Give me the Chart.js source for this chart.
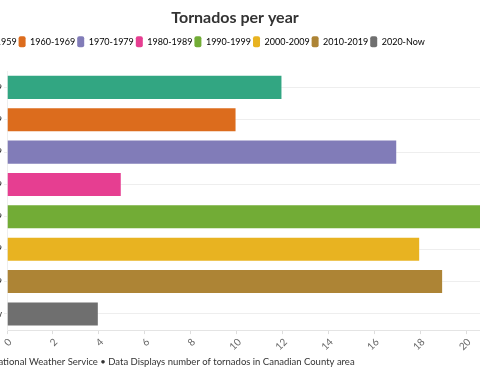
<!DOCTYPE html>
<html>
<head>
<meta charset="utf-8">
<script src="https://cdn.jsdelivr.net/npm/chart.js@4"></script>
<style>
  body { margin: 0; overflow: hidden; background: #fff; }
  #wrap { position: absolute; left: -54px; top: 0; width: 586px; height: 384px; }
</style>
</head>
<body>
<div id="wrap"><canvas id="myChart"></canvas></div>
<script>
// decades shown on the y axis
const decades = ['1950-1959', '1960-1969', '1970-1979', '1980-1989', '1990-1999', '2000-2009', '2010-2019', '2020-Now'];
// tornados counted in each decade
const tornadoCounts = [12, 10, 17, 5, 22, 18, 19, 4];
// x axis ticks
const xTicks = [0, 2, 4, 6, 8, 10, 12, 14, 16, 18, 20, 22];

const barColors = ['#32a682', '#dc6c1d', '#817cb8', '#e63e91', '#72ac36', '#e8b321', '#ad8435', '#6f6f6f'];

Chart.defaults.font.family = 'Lato, "Noto Sans", sans-serif';
Chart.defaults.color = '#333';

//gives the legend some room underneath before the bars start
const legendGap = {
    id: 'legendGap',
    beforeInit(chart) {
        const fit = chart.legend.fit;
        chart.legend.fit = function () {
            fit.call(this);
            this.height += 14;
        };
    }
};

const ctx = document.getElementById('myChart').getContext('2d');

const myChart = new Chart(ctx, {
    type: 'bar',
    data: {
        labels: decades,
        datasets: [{
            label: 'Tornados',
            data: tornadoCounts,
            backgroundColor: barColors,
            borderColor: 'rgba(255,255,255,0.35)',
            borderWidth: 1,
            barPercentage: 0.86,
            categoryPercentage: 0.9
        }]
    },
    options: {
        indexAxis: 'y',
        responsive: true,
        maintainAspectRatio: false,
        animation: false,
        layout: { padding: { left: 12, right: 20, top: 6, bottom: 4 } },
        scales: {
            x: {
                min: 0,
                max: 22,
                afterBuildTicks: s => { s.ticks = xTicks.map(v => ({ value: v })); },
                grid: { drawOnChartArea: false, drawTicks: true, tickLength: 4, color: '#ddd' },
                border: { color: '#e4e4e4' },
                ticks: {
                    minRotation: 45, maxRotation: 45,
                    color: '#666', font: { size: 10 }, labelOffset: 3, padding: 2
                }
            },
            y: {
                afterFit: s => { s.width = 49; },
                grid: { offset: false, color: '#eee', tickLength: 3 },
                border: { color: '#eee' },
                ticks: { color: '#333', font: { size: 10 }, padding: 2 }
            }
        },
        plugins: {
            title: {
                display: true,
                text: 'Tornados per year',
                color: '#333',
                font: { size: 16, weight: 'bold' },
                padding: { top: 2, bottom: 7 }
            },
            subtitle: {
                display: true,
                position: 'bottom',
                align: 'start',
                text: 'Source: National Weather Service \u2022 Data Displays number of tornados in Canadian County area',
                color: '#333',
                font: { size: 9.5 },
                padding: { top: 1.5, bottom: 12.3 }
            },
            legend: {
                display: true,
                align: 'start',
                labels: {
                    boxWidth: 7,
                    boxHeight: 11,
                    useBorderRadius: true,
                    borderRadius: 2,
                    padding: 2,
                    font: { size: 9 },
                    color: '#333',
                    generateLabels: () => decades.map((d, i) => ({
                        text: d,
                        fillStyle: barColors[i],
                        strokeStyle: barColors[i],
                        lineWidth: 0,
                        hidden: false,
                        index: i,
                        borderRadius: 2
                    }))
                },
                onClick: () => {}
            },
            tooltip: { enabled: true }
        }
    },
    plugins: [legendGap]
});
</script>
</body>
</html>
